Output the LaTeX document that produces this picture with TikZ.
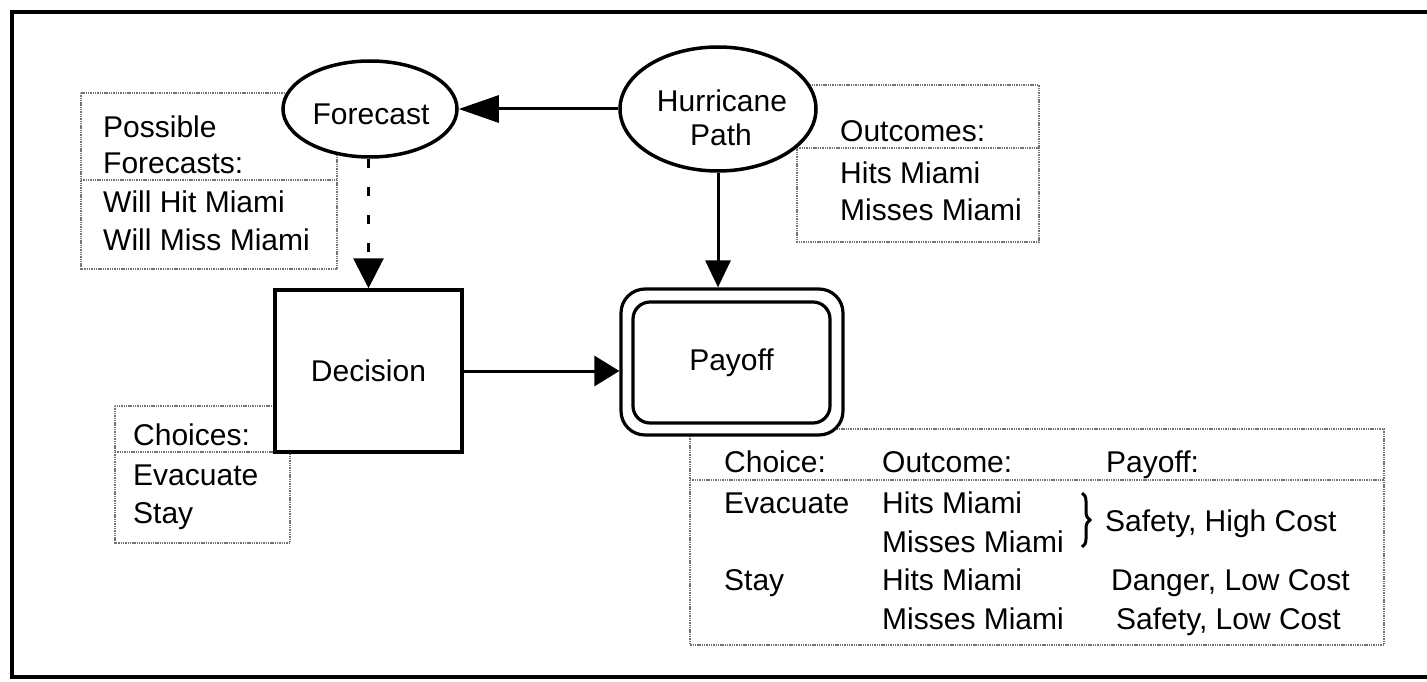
\documentclass[tikz,border=0pt]{standalone}
\usepackage{fontspec}
\setmainfont{Liberation Sans}
\usetikzlibrary{arrows.meta,shapes.geometric,decorations.pathreplacing}
\begin{document}
\begin{tikzpicture}[x=1pt,y=-1pt,
  txt/.style={inner sep=0pt, font=\fontsize{30}{36}\selectfont},
  infobox/.style={draw=black!55, line width=2pt, dash pattern=on 1.4pt off 0.9pt},
  frameline/.style={line width=3.5pt, line cap=rect},
  chance/.style={ellipse, draw, line width=3.5pt, fill=white, inner sep=0pt},
  decisionbox/.style={rectangle, draw, line width=3.5pt, fill=white, inner sep=0pt,
    font=\fontsize{30}{36}\selectfont},
  valueouter/.style={rectangle, draw, line width=3.2pt, fill=white, rounded corners=24pt, inner sep=0pt},
  valueinner/.style={rectangle, draw, line width=3.2pt, rounded corners=17pt, inner sep=0pt,
    font=\fontsize{30}{36}\selectfont},
  link/.style={line width=3pt},
]
\useasboundingbox (0,0) rectangle (1427,682);

% outer frame (open on the right)
\draw[frameline] (1430,12) -- (12,12) -- (12,677) -- (1430,677);

% annotation boxes
\draw[infobox] (81,93) rectangle (337,269);
\draw[infobox] (81,180) -- (337,180);
\draw[infobox] (797,85) rectangle (1039,242);
\draw[infobox] (797,148) -- (1039,148);
\draw[infobox] (115,406) rectangle (290,543);
\draw[infobox] (115,452) -- (290,452);
\draw[infobox] (690,429) rectangle (1384,645);
\draw[infobox] (690,480) -- (1384,480);

% chance nodes
\node[chance, minimum width=174pt, minimum height=96pt] (forecast) at (370,109) {};
\node[txt, anchor=base] (forecastlbl) at (371,125) {Forecast};
\node[chance, minimum width=196pt, minimum height=124pt] (hurricane) at (718,109) {};
\node[txt, anchor=base] (hurricanelbl) at (722,112) {Hurricane};
\node[txt, anchor=base] (pathlbl) at (721,146) {Path};

% decision node
\node[decisionbox, minimum width=187pt, minimum height=162pt] (decision) at (368.5,371) {Decision};

% value node
\node[valueouter, minimum width=222pt, minimum height=146pt] (payoff) at (732,362) {};
\node[valueinner, minimum width=197pt, minimum height=121pt] (payoffin) at (731.5,362.5) {Payoff};

% influences
\draw[link, -{Triangle[length=40pt, width=27pt]}] (hurricane.west) -- (forecast.east);
\draw[link, -{Triangle[length=27pt, width=25pt]}] (hurricane.south) -- (hurricane.south |- payoff.north);
\draw[link, -{Triangle[length=25pt, width=30pt]}] (decision.east) -- (decision.east -| payoff.west);
\draw[link, dash pattern=on 9pt off 19pt, -{Triangle[length=30pt, width=30pt]}]
  (forecast.south -| decision.north) -- (decision.north);

% possible forecasts
\node[txt, anchor=base west] (pf1) at (103,138) {Possible};
\node[txt, anchor=base west] (pf2) at (103,173) {Forecasts:};
\node[txt, anchor=base west] (pf3) at (103,212) {Will Hit Miami};
\node[txt, anchor=base west] (pf4) at (103,250) {Will Miss Miami};

% outcomes
\node[txt, anchor=base west] (oc1) at (840,142) {Outcomes:};
\node[txt, anchor=base west] (oc2) at (840,183) {Hits Miami};
\node[txt, anchor=base west] (oc3) at (840,220) {Misses Miami};

% choices
\node[txt, anchor=base west] (ch1) at (133,445) {Choices:};
\node[txt, anchor=base west] (ch2) at (133,485) {Evacuate};
\node[txt, anchor=base west] (ch3) at (133,523) {Stay};

% payoff table
\node[txt, anchor=base west] (th1) at (724,472) {Choice:};
\node[txt, anchor=base west] (th2) at (882,472) {Outcome:};
\node[txt, anchor=base west] (th3) at (1106,472) {Payoff:};
\node[txt, anchor=base west] (r1a) at (724,513) {Evacuate};
\node[txt, anchor=base west] (r1b) at (882,513) {Hits Miami};
\node[txt, anchor=base west] (r2b) at (882,552) {Misses Miami};
\draw[line width=3pt, decorate, decoration={brace, amplitude=8pt}] (1082,493) -- (1082,547);
\node[txt, anchor=base west] (r1c) at (1105,531) {Safety, High Cost};
\node[txt, anchor=base west] (r3a) at (724,590) {Stay};
\node[txt, anchor=base west] (r3b) at (882,590) {Hits Miami};
\node[txt, anchor=base west] (r3c) at (1111,590) {Danger, Low Cost};
\node[txt, anchor=base west] (r4b) at (882,629) {Misses Miami};
\node[txt, anchor=base west] (r4c) at (1116,629) {Safety, Low Cost};
\end{tikzpicture}
\end{document}
